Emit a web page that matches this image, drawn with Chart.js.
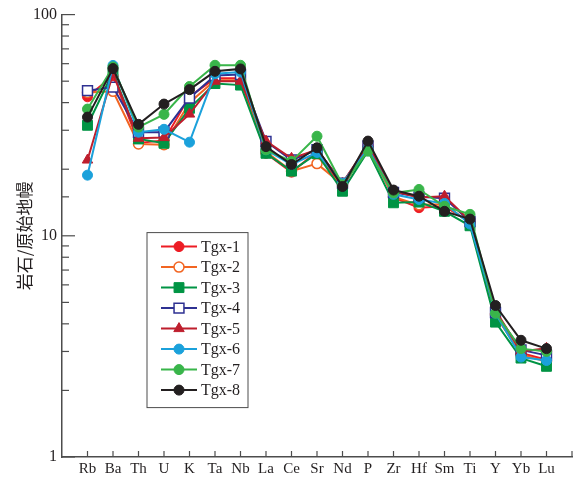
<!DOCTYPE html>
<html>
<head>
<meta charset="utf-8">
<script src="https://cdn.jsdelivr.net/npm/chart.js@4"></script>
<style>
  body { margin: 0; background: #fff; }
</style>
</head>
<body>
<canvas id="spider" width="585" height="477"></canvas>
<script>
// elements on the x axis
var elements = ["Rb", "Ba", "Th", "U", "K", "Ta", "Nb", "La", "Ce", "Sr", "Nd", "P", "Zr", "Hf", "Sm", "Ti", "Y", "Yb", "Lu"];
var yTickLabels = [1, 10, 100];

// rock / primitive mantle, one array per sample
var tgx1 = [42.5, 53, 26.3, 27, 42.6, 51.5, 51.5, 23.6, 19.4, 24, 16.5, 25.7, 14.9, 13.4, 13.6, 11.5, 4.36, 2.95, 2.75];
var tgx2 = [44.5, 45, 26, 25.8, 40, 50.5, 50.5, 24, 19.6, 21.2, 17, 25, 15, 13.8, 13.9, 11.4, 4.4, 2.9, 2.7];
var tgx3 = [31.6, 55, 27.4, 26.2, 37.7, 48.8, 48, 23.6, 19.6, 23.5, 15.9, 24.2, 14.1, 14.2, 12.9, 11.1, 4.07, 2.8, 2.57];
var tgx4 = [45.3, 47, 29.4, 29.4, 42, 53, 53.6, 26.7, 22, 24.5, 17.3, 25.5, 15.7, 15, 14.8, 11.6, 4.5, 3.05, 2.88];
var tgx5 = [22, 54, 27.6, 27.8, 35.5, 50, 50, 26.8, 22.4, 24.5, 17.3, 25.8, 15.9, 14.9, 15.1, 11.7, 4.6, 3.0, 3.1];
var tgx6 = [18.8, 58.9, 29.4, 30.3, 26.5, 54, 55, 24.5, 21, 23.8, 17.3, 24.8, 15.4, 14.6, 14, 11.3, 4.47, 2.83, 2.73];
var tgx7 = [37.4, 58, 31, 35.4, 47.3, 59, 59, 24.5, 21.7, 28.2, 17, 24.2, 15.6, 16.2, 13.6, 12.5, 4.47, 3.09, 3.0];
var tgx8 = [34.4, 57, 31.9, 39.4, 45.8, 55.4, 56.8, 25.3, 21, 25, 16.7, 26.8, 16.1, 15.1, 12.9, 11.9, 4.84, 3.37, 3.09];

var samples = [
  { label: "Tgx-1", data: tgx1, color: "#ed1c24", style: "circle", open: false },
  { label: "Tgx-2", data: tgx2, color: "#f26522", style: "circle", open: true },
  { label: "Tgx-3", data: tgx3, color: "#009444", style: "rect", open: false },
  { label: "Tgx-4", data: tgx4, color: "#2e3192", style: "rect", open: true },
  { label: "Tgx-5", data: tgx5, color: "#be1e2d", style: "triangle", open: false },
  { label: "Tgx-6", data: tgx6, color: "#1ba1db", style: "circle", open: false },
  { label: "Tgx-7", data: tgx7, color: "#39b54a", style: "circle", open: false },
  { label: "Tgx-8", data: tgx8, color: "#231f20", style: "circle", open: false }
];

var axisColor = "#4d4d4d";
var textColor = "#231f20";

function markerSize(style) {
  if (style == "rect") return 7;
  if (style == "triangle") return 6;
  return 5;
}

var datasets = samples.map(function (s, i) {
  return {
    label: s.label,
    data: s.data.map(function (v, j) { return { x: j, y: v }; }),
    borderColor: s.color,
    backgroundColor: s.open ? "#ffffff" : s.color,
    borderWidth: 2,
    pointStyle: s.style,
    pointRadius: markerSize(s.style),
    pointBorderWidth: s.open ? 1.5 : 1,
    pointBorderColor: s.color,
    pointBackgroundColor: s.open ? "#ffffff" : s.color,
    order: samples.length - 1 - i   // later samples drawn on top
  };
});

// tick marks pointing into the plot, like the original figure
var innerTicks = {
  id: "innerTicks",
  afterDraw: function (chart) {
    var ctx = chart.ctx;
    var area = chart.chartArea;
    var xs = chart.scales.x, ys = chart.scales.y;
    ctx.save();
    ctx.strokeStyle = axisColor;
    ctx.lineWidth = 1.2;
    ys.ticks.forEach(function (t) {
      var y = ys.getPixelForValue(t.value);
      var major = Math.abs(Math.log10(t.value) - Math.round(Math.log10(t.value))) < 1e-9;
      ctx.beginPath();
      ctx.moveTo(area.left, y);
      ctx.lineTo(area.left + (major ? 13 : 7), y);
      ctx.stroke();
    });
    xs.ticks.forEach(function (t) {
      if (t.value < 0) return;
      var x = xs.getPixelForValue(t.value);
      ctx.beginPath();
      ctx.moveTo(x, area.bottom);
      ctx.lineTo(x, area.bottom - 6);
      ctx.stroke();
    });
    ctx.restore();
  }
};

// boxed legend inside the plot
var boxLegend = {
  id: "boxLegend",
  afterDraw: function (chart) {
    var ctx = chart.ctx;
    var area = chart.chartArea;
    var left = area.left + 85, top = area.top + 218, w = 101, h = 175;
    ctx.save();
    ctx.fillStyle = "#ffffff";
    ctx.fillRect(left, top, w, h);
    ctx.strokeStyle = axisColor;
    ctx.lineWidth = 1;
    ctx.strokeRect(left, top, w, h);
    ctx.font = "16px 'Liberation Serif'";
    ctx.textBaseline = "middle";
    chart.data.datasets.forEach(function (ds, i) {
      var y = top + 14 + i * 20.5;
      ctx.strokeStyle = ds.borderColor;
      ctx.lineWidth = 2;
      ctx.beginPath();
      ctx.moveTo(left + 14, y);
      ctx.lineTo(left + 50, y);
      ctx.stroke();
      ctx.fillStyle = ds.pointBackgroundColor;
      ctx.strokeStyle = ds.pointBorderColor;
      ctx.lineWidth = ds.pointBorderWidth;
      Chart.helpers.drawPoint(ctx, {
        pointStyle: ds.pointStyle,
        radius: ds.pointRadius,
        rotation: 0,
        borderWidth: ds.pointBorderWidth
      }, left + 32, y);
      ctx.fillStyle = textColor;
      ctx.fillText(ds.label, left + 54, y + 1);
    });
    ctx.restore();
  }
};

new Chart(document.getElementById("spider"), {
  type: "line",
  data: { datasets: datasets },
  plugins: [innerTicks, boxLegend],
  options: {
    responsive: false,
    animation: false,
    layout: { padding: { top: 14, right: 13, left: 0, bottom: 0 } },
    plugins: {
      legend: { display: false },
      tooltip: { enabled: false }
    },
    scales: {
      x: {
        type: "linear",
        min: -1,
        max: elements.length,
        afterFit: function (scale) { scale.height = 20; },
        grid: { display: false, drawTicks: false },
        border: { color: axisColor, width: 1.5 },
        ticks: {
          stepSize: 1,
          autoSkip: false,
          maxRotation: 0,
          padding: 3,
          color: textColor,
          font: { family: "Liberation Serif", size: 15 },
          callback: function (v) { return elements[v] || ""; }
        }
      },
      y: {
        type: "logarithmic",
        min: 1,
        max: 100,
        afterFit: function (scale) { scale.width = 62; },
        grid: { display: false, drawTicks: false },
        border: { color: axisColor, width: 1.5 },
        title: {
          display: true,
          text: "岩石/原始地幔",
          color: textColor,
          padding: { top: 14, bottom: 0 },
          font: { family: "Noto Sans CJK SC", size: 17, weight: "normal" }
        },
        ticks: {
          autoSkip: false,
          padding: 5,
          color: textColor,
          font: { family: "Liberation Serif", size: 16 },
          callback: function (v) {
            return yTickLabels.indexOf(v) >= 0 ? String(v) : "";
          }
        }
      }
    }
  }
});
</script>
</body>
</html>
